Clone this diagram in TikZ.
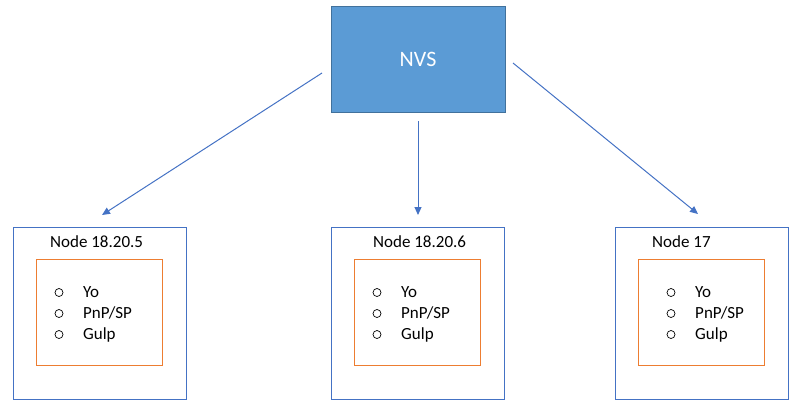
\documentclass[tikz,border=0pt]{standalone}
\usepackage{fontspec}
\setmainfont{Carlito}
\usetikzlibrary{arrows.meta}
\definecolor{nvsfill}{HTML}{5B9BD5}
\definecolor{nvsdraw}{HTML}{41719C}
\definecolor{hostblue}{HTML}{4472C4}
\definecolor{innerorange}{HTML}{ED7D31}
\begin{document}
\begin{tikzpicture}[x=1pt,y=-1pt,
  nvsbox/.style={draw=nvsdraw, fill=nvsfill, line width=1pt, text=white,
    font=\fontsize{22}{26}\selectfont, inner sep=0pt},
  hostbox/.style={draw=hostblue, line width=1pt, anchor=north west, inner sep=0pt,
    minimum width=173pt, minimum height=172pt},
  innerbox/.style={draw=innerorange, line width=1pt, anchor=north west, inner sep=0pt,
    minimum width=126pt, minimum height=106pt},
  lbl/.style={anchor=base west, inner sep=0pt, font=\fontsize{17}{20}\selectfont},
  bul/.style={circle, draw=black, line width=0.7pt, minimum size=8pt, inner sep=0pt},
  arr/.style={draw=hostblue, line width=1pt, -{Triangle[length=8pt,width=7pt]}}
]
\useasboundingbox (0,0) rectangle (797,415);
\node[nvsbox, minimum width=174pt, minimum height=106pt] (nvs) at (418,59) {NVS};

\foreach \id/\ox/\ix/\bo/\tx/\tt in {
  a/12.5/36/23/50/{Node 18.20.5},
  b/331/354/23/373/{Node 18.20.6},
  c/615/638/33/652/{Node 17}} {
  \node[hostbox] (host\id) at (\ox,226.5) {};
  \node[innerbox] (inner\id) at (\ix,259) {};
  \node[lbl] (title\id) at (\tx,247) {\tt};
  \node[bul] (bya\id) at (\ix+\bo,292.5) {};
  \node[bul] (byb\id) at (\ix+\bo,313.5) {};
  \node[bul] (byc\id) at (\ix+\bo,334.5) {};
  \node[lbl] (yo\id) at (\ix+\bo+24,297.5) {Yo};
  \node[lbl] (pnp\id) at (\ix+\bo+24,318.5) {PnP/SP};
  \node[lbl] (gulp\id) at (\ix+\bo+24,339.5) {Gulp};
}

\coordinate (s1) at (322,73);
\coordinate (e1) at (102,215);
\coordinate (s2) at (418,121);
\coordinate (e2) at (418,215);
\coordinate (s3) at (513,63);
\coordinate (e3) at (698,214);
\draw[arr] (s1) -- (e1);
\draw[arr] (s2) -- (e2);
\draw[arr] (s3) -- (e3);
\end{tikzpicture}
\end{document}
